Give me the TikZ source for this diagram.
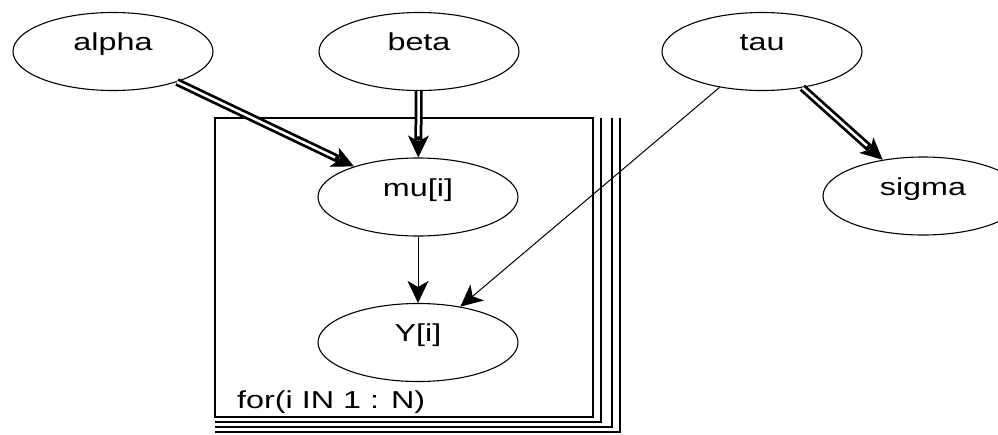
\documentclass[tikz,border=0pt]{standalone}
\usepackage{fontspec}
\setmainfont{Liberation Sans}
\usetikzlibrary{shapes.geometric,arrows.meta}

% widened sans label, as in the doodle editor
\newcommand{\doodletext}[1]{\scalebox{1.32}[1]{#1}}

\tikzset{
  bugnode/.style={ellipse, draw, line width=1.1pt, fill=white,
    minimum width=200pt, minimum height=78pt, inner sep=0pt,
    text height=10pt, text depth=12pt,
    font=\fontsize{24.5}{24.5}\selectfont},
  tipshape/.style={-{Stealth[length=22pt,width=21pt,inset=6pt]}},
  stocharrow/.style={line width=1pt, tipshape},
  logicarrow/.style={line width=1pt, tipshape,
    preaction={draw, -, line width=8pt, shorten >=17pt},
    postaction={draw=white, -, line width=2.5pt, shorten >=21pt}},
  platethin/.style={line width=1.2pt},
  platethick/.style={line width=2.6pt},
}

\begin{document}
\begin{tikzpicture}[x=1pt, y=-1pt]
  \useasboundingbox[fill=white] (0,0) rectangle (998,434);

  % plate for the repeated index i
  \draw[platethin] (215,118) rectangle (593,417);
  \draw[platethick] (601,118) |- (215,422);
  \draw[platethick] (612,118) |- (215,427);
  \draw[platethin] (620,118) |- (215,432);
  \node[anchor=base west, inner sep=0pt, font=\fontsize{24.5}{24.5}\selectfont]
    (platelabel) at (237,408) {\doodletext{for(i IN 1 : N)}};

  % nodes
  \node[bugnode] (alpha) at (113,51.5)  {\doodletext{alpha}};
  \node[bugnode] (beta)  at (419,51.5)  {\doodletext{beta}};
  \node[bugnode] (tau)   at (762,51.5)  {\doodletext{tau}};
  \node[bugnode] (sigma) at (923,196)   {\doodletext{sigma}};
  \node[bugnode] (mu)    at (418,197)   {\doodletext{mu[i]}};
  \node[bugnode] (Y)     at (418,342.5) {\doodletext{Y[i]}};

  % logical links
  \draw[logicarrow] (alpha) -- (mu);
  \draw[logicarrow] (beta) -- (mu);
  \draw[logicarrow] (tau) -- (sigma);

  % stochastic links
  \draw[stocharrow] (mu) -- (Y);
  \draw[stocharrow] (tau) -- (Y);
\end{tikzpicture}
\end{document}
